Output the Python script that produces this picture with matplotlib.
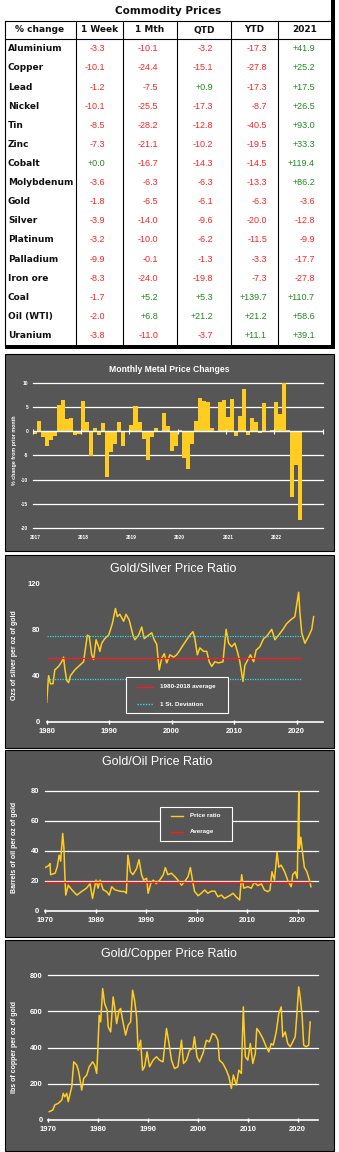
import numpy as np
import matplotlib
matplotlib.use("Agg")
import matplotlib.pyplot as plt
from matplotlib.patches import Rectangle
from matplotlib import font_manager

W, H = 339, 1152

# ---- table data ----
commodities = ["Aluminium", "Copper", "Lead", "Nickel", "Tin", "Zinc", "Cobalt",
               "Molybdenum", "Gold", "Silver", "Platinum", "Palladium", "Iron ore",
               "Coal", "Oil (WTI)", "Uranium"]
col_headers = ["% change", "1 Week", "1 Mth", "QTD", "YTD", "2021"]
chg_week = [-3.3, -10.1, -1.2, -10.1, -8.5, -7.3, 0.0, -3.6, -1.8, -3.9, -3.2, -9.9, -8.3, -1.7, -2.0, -3.8]
chg_month = [-10.1, -24.4, -7.5, -25.5, -28.2, -21.1, -16.7, -6.3, -6.5, -14.0, -10.0, -0.1, -24.0, 5.2, 6.8, -11.0]
chg_qtd = [-3.2, -15.1, 0.9, -17.3, -12.8, -10.2, -14.3, -6.3, -6.1, -9.6, -6.2, -1.3, -19.8, 5.3, 21.2, -3.7]
chg_ytd = [-17.3, -27.8, -17.3, -8.7, -40.5, -19.5, -14.5, -13.3, -6.3, -20.0, -11.5, -3.3, -7.3, 139.7, 21.2, 11.1]
chg_2021 = [41.9, 25.2, 17.5, 26.5, 93.0, 33.3, 119.4, 86.2, -3.6, -12.8, -9.9, -17.7, -27.8, 110.7, 58.6, 39.1]

# ---- monthly metal price changes, Jan 2017 .. Jul 2022 ----
bar_years = ["2017", "2018", "2019", "2020", "2021", "2022"]
monthly_chg = [-0.5, 2.2, -1.2, -3.0, -1.9, -1.0, 5.5, 6.4, 2.6, 2.7, -0.8, -0.5,
               6.2, 1.9, -5.1, 0.6, -0.7, 1.6, -9.5, -4.2, -2.6, 2.0, -3.1, 0.0,
               1.2, 5.1, 1.9, -1.7, -6.0, -1.2, 0.7, 0.0, 3.8, 1.0, -4.0, -3.1,
               0.3, -5.5, -7.8, -2.6, 2.1, 6.8, 6.2, 6.0, 0.7, 0.0, 6.0, 6.4,
               2.9, 6.7, -1.0, 3.1, 8.7, -0.8, 2.7, 1.9, -0.3, 5.8, -0.1, 0.3,
               6.1, 3.6, 10.3, 0.2, -13.6, -6.9, -18.3]

# ---- gold/silver ratio ----
gs_years = [1980.0, 1980.3, 1980.6, 1981.0, 1981.3, 1981.9, 1982.4, 1982.7, 1982.9, 1983.2,
            1983.5, 1983.8, 1984.5, 1985.3, 1985.9, 1986.5, 1986.8, 1987.2, 1987.5, 1987.9,
            1988.3, 1988.5, 1988.8, 1989.3, 1989.9, 1990.1, 1990.5, 1991.0, 1991.3, 1991.7,
            1992.3, 1992.7, 1993.2, 1993.8, 1994.1, 1994.7, 1995.2, 1995.6, 1996.3, 1996.8,
            1997.2, 1997.6, 1998.0, 1998.4, 1998.8, 1999.2, 1999.7, 2000.3, 2000.8, 2001.3,
            2001.9, 2002.4, 2002.9, 2003.4, 2003.7, 2004.1, 2004.5, 2005.1, 2005.6, 2006.0,
            2006.4, 2006.9, 2007.5, 2008.2, 2008.7, 2009.1, 2009.6, 2010.1, 2010.5, 2010.9,
            2011.4, 2011.7, 2012.3, 2012.6, 2013.1, 2013.5, 2014.1, 2014.7, 2015.2, 2016.0,
            2016.5, 2017.1, 2017.8, 2018.4, 2019.0, 2019.7, 2020.3, 2020.5, 2020.8, 2021.3,
            2021.9, 2022.4, 2022.7]
gs_ratio = [17, 40, 33, 33, 45, 48, 52, 56, 46, 36,
            34, 40, 45, 49, 52, 75, 74, 58, 54, 71,
            65, 61, 68, 72, 75, 78, 85, 98, 91, 93,
            87, 93, 88, 75, 71, 75, 82, 72, 75, 77,
            71, 67, 45, 55, 59, 51, 58, 56, 58, 62,
            67, 71, 75, 78, 72, 58, 64, 61, 61, 52,
            48, 52, 51, 52, 80, 68, 65, 68, 61, 52,
            35, 49, 55, 58, 52, 62, 65, 72, 74, 80,
            71, 75, 80, 85, 88, 91, 112, 95, 77, 68,
            74, 80, 91]
gs_avg = 55.5
gs_sd = 18.8
gs_band_end = 2020.9

# ---- gold/oil ratio ----
go_years = [1970.0, 1970.7, 1971.0, 1971.1, 1972.0, 1972.4, 1972.8, 1973.1, 1973.5, 1973.75,
            1973.9, 1974.1, 1974.6, 1975.3, 1976.3, 1977.2, 1978.2, 1978.9, 1979.4, 1980.1,
            1980.5, 1980.9, 1981.5, 1982.2, 1982.7, 1983.2, 1983.8, 1984.8, 1985.8, 1986.1,
            1986.4, 1986.9, 1987.4, 1988.1, 1988.6, 1989.1, 1989.5, 1990.1, 1990.4, 1990.9,
            1991.4, 1992.0, 1992.7, 1993.4, 1993.8, 1994.3, 1995.0, 1995.7, 1996.3, 1997.0,
            1997.6, 1998.3, 1998.75, 1999.3, 1999.6, 2000.3, 2000.9, 2001.6, 2002.2, 2002.9,
            2003.6, 2004.2, 2004.9, 2005.5, 2006.5, 2007.2, 2007.8, 2008.5, 2008.9, 2009.3,
            2010.1, 2010.8, 2011.4, 2012.1, 2012.8, 2013.4, 2014.1, 2014.5, 2014.9, 2015.4,
            2015.9, 2016.25, 2016.7, 2017.4, 2018.0, 2018.7, 2019.0, 2019.5, 2019.9, 2020.2,
            2020.3, 2020.6, 2021.0, 2021.3, 2021.8, 2022.3, 2022.6]
go_ratio = [28.7, 30, 31.5, 24, 25, 29, 37, 33, 51.5, 41.5,
            26, 10.4, 17, 14, 10.4, 12.7, 15, 18, 8.2, 20.4,
            15, 20.4, 14, 12.7, 10.4, 16, 14, 13, 12.7, 11.6,
            37, 26, 24, 28, 34, 24, 20.4, 21.6, 11.6, 18,
            20.4, 18, 20.4, 24, 28.7, 24, 25, 22.7, 20.4, 17,
            19.3, 22.7, 28.7, 18, 12.7, 10, 11.6, 13.8, 11.6, 13,
            13, 9.3, 10.4, 8.2, 10, 11.6, 9.3, 7.1, 24, 15,
            16, 15, 19, 16.7, 18, 13.8, 12.7, 13.8, 26, 20.4,
            39, 29, 30.4, 26, 20.4, 16, 24, 26, 21.6, 80,
            41.5, 49, 37, 29, 26, 20.4, 16]
go_avg = 19.3
go_avg_end = 2022.6

# ---- gold/copper ratio ----
gc_years = [1970.2, 1970.9, 1971.3, 1972.0, 1972.7, 1973.0, 1973.3, 1973.7, 1974.0, 1974.3,
            1974.7, 1975.1, 1975.7, 1976.1, 1976.7, 1977.1, 1977.7, 1978.2, 1978.9, 1979.3,
            1979.7, 1979.9, 1980.2, 1980.5, 1980.9, 1981.3, 1981.8, 1982.0, 1982.5, 1983.0,
            1983.3, 1983.7, 1984.2, 1984.5, 1984.9, 1985.5, 1986.0, 1986.5, 1986.9, 1987.3,
            1987.7, 1988.0, 1988.5, 1988.9, 1989.3, 1989.8, 1990.3, 1991.0, 1991.7, 1992.3,
            1993.0, 1993.7, 1994.2, 1994.7, 1995.3, 1996.0, 1996.7, 1997.1, 1997.7, 1998.3,
            1999.0, 1999.3, 1999.8, 2000.3, 2001.0, 2001.7, 2002.3, 2002.9, 2003.5, 2004.0,
            2004.3, 2005.0, 2005.7, 2006.2, 2006.7, 2007.1, 2007.7, 2008.2, 2008.7, 2009.1,
            2009.5, 2010.0, 2010.5, 2011.0, 2011.5, 2011.8, 2012.3, 2013.0, 2013.7, 2014.2,
            2014.7, 2015.1, 2015.7, 2016.2, 2016.7, 2017.0, 2017.5, 2018.0, 2018.5, 2019.0,
            2019.5, 2019.8, 2020.2, 2020.5, 2020.9, 2021.2, 2021.7, 2022.2, 2022.5]
gc_ratio = [46, 55, 83, 92, 110, 147, 128, 147, 101, 138,
            183, 321, 303, 266, 165, 229, 248, 294, 321, 303,
            257, 367, 578, 541, 725, 642, 606, 514, 486, 679,
            624, 532, 606, 615, 551, 468, 523, 541, 716, 661,
            569, 385, 440, 275, 294, 376, 294, 330, 349, 330,
            321, 505, 422, 330, 284, 294, 440, 312, 330, 385,
            395, 459, 349, 321, 367, 440, 431, 477, 468, 440,
            330, 312, 275, 239, 174, 248, 193, 275, 257, 624,
            349, 330, 422, 312, 367, 505, 486, 450, 404, 376,
            422, 413, 486, 587, 624, 459, 486, 422, 404, 431,
            459, 569, 734, 679, 569, 413, 404, 413, 541]

# ---- styling ----
PANEL = "#565656"
GOLD = "#ffcc22"
RED = "#ff1a1a"
CYAN = "#33dddd"
NUM_RED = "#ff2222"
NUM_GREEN = "#1e8c1e"
SANS = ["Liberation Sans", "DejaVu Sans"]

# narrow face for the bar chart title, if one is installed
installed = {f.name for f in font_manager.fontManager.ttflist}
narrow = [n for n in ["Liberation Sans Narrow", "DejaVu Sans Condensed"] if n in installed]
title1_family = narrow[:1] + SANS if narrow else SANS
title1_size = 7.5 if narrow else 6.2


def box(l, t, r, b):
    return [l / W, 1 - b / H, (r - l) / W, (b - t) / H]


fig = plt.figure(figsize=(W / 100, H / 100), dpi=100)
fig.patch.set_facecolor("white")

bg = fig.add_axes([0, 0, 1, 1], zorder=0)
bg.set_xlim(0, W)
bg.set_ylim(H, 0)
bg.axis("off")

over = fig.add_axes([0, 0, 1, 1], zorder=5)
over.set_xlim(0, W)
over.set_ylim(H, 0)
over.axis("off")
over.patch.set_alpha(0)

# ---------------- table ----------------
bg.text(168, 11, "Commodity Prices", ha="center", va="center", fontsize=7.5,
        fontweight="bold", family="DejaVu Sans", color="#111111")
tbl_top, hdr_bot, tbl_bot = 21, 39.3, 345
col_lines = [5, 76, 123, 177, 231, 278]
bg.plot([5, 331], [tbl_top, tbl_top], color="black", lw=0.8)
bg.plot([5, 331], [hdr_bot, hdr_bot], color="black", lw=0.8)
for x in col_lines:
    bg.plot([x, x], [tbl_top, tbl_bot], color="black", lw=0.8)
bg.add_patch(Rectangle((331, 0), 4, 349, facecolor="black", edgecolor="none"))
bg.add_patch(Rectangle((5, 345), 330, 4, facecolor="black", edgecolor="none"))

hdr_x = [40, 100, 150, 204, 254, 305]
for x, h in zip(hdr_x, col_headers):
    bg.text(x, 30, h, ha="center", va="center", fontsize=6.5, fontweight="bold",
            family="DejaVu Sans", color="#111111")

row_h = (tbl_bot - hdr_bot) / len(commodities)
num_right = [105, 158, 213, 267, 315]
columns = [chg_week, chg_month, chg_qtd, chg_ytd, chg_2021]
for i, name in enumerate(commodities):
    yc = hdr_bot + (i + 0.5) * row_h
    bg.text(8, yc, name, ha="left", va="center", fontsize=6.5, fontweight="bold",
            family="DejaVu Sans", color="#111111")
    for xr, col in zip(num_right, columns):
        v = col[i]
        bg.text(xr, yc, f"{v:+.1f}", ha="right", va="center", fontsize=6.5,
                family=SANS, color=NUM_GREEN if v >= 0 else NUM_RED)

# ---------------- panel backgrounds ----------------
panels = [(5, 354, 334, 551), (5, 555, 334, 748), (5, 750, 334, 937), (5, 940, 334, 1151)]
for l, t, r, b in panels:
    bg.add_patch(Rectangle((l, t), r - l, b - t, facecolor=PANEL, edgecolor="black", lw=0.8))


def style_axes(ax, xticks, xlabels, yticks, fs, xpad, ypad, bottom_spine=True):
    ax.patch.set_alpha(0)
    for s in ax.spines.values():
        s.set_visible(False)
    if bottom_spine:
        ax.spines["bottom"].set_visible(True)
        ax.spines["bottom"].set_color("white")
        ax.spines["bottom"].set_linewidth(1.2)
    ax.set_xticks(xticks)
    ax.set_xticklabels(xlabels, fontsize=fs, fontweight="bold", color="white", family=SANS)
    ax.set_yticks(yticks)
    ax.set_yticklabels([str(v) for v in yticks], fontsize=fs, fontweight="bold",
                       color="white", family=SANS)
    ax.tick_params(axis="y", length=0, pad=ypad)
    ax.tick_params(axis="x", length=3, width=1, color="white", direction="inout", pad=xpad)


# ---------------- monthly changes ----------------
ax1 = fig.add_axes(box(33, 382.7, 323, 528.3), zorder=1)
months = np.arange(len(monthly_chg))
ax1.set_xlim(-0.5, 71.64)
ax1.set_ylim(-20, 10)
for v in [-20, -15, -10, -5, 5, 10]:
    ax1.axhline(v, color="white", lw=0.9, zorder=0, clip_on=False)
ax1.bar(months, monthly_chg, width=1.0, color=GOLD, edgecolor="none", zorder=2)
ax1.axhline(0, color="white", lw=1.0, zorder=3)
ax1.vlines([-0.5, 11.5, 23.5, 35.5, 47.5, 59.5, 71.64], -0.5, 0.5, color="white",
           lw=0.8, zorder=3, clip_on=False)
style_axes(ax1, [0, 12, 24, 36, 48, 60], bar_years, [-20, -15, -10, -5, 0, 5, 10],
           3.5, 5, 3.5, bottom_spine=False)
ax1.tick_params(axis="x", length=0)
over.text(169, 370, "Monthly Metal Price Changes", ha="center", va="center",
          fontsize=title1_size, fontweight="bold", family=title1_family, color="white")
over.text(15, 450, "% change from prior month", ha="center", va="center", rotation=90,
          fontsize=3.8, fontweight="bold", family=SANS, color="white")

# ---------------- gold/silver ----------------
ax2 = fig.add_axes(box(46.7, 583, 323, 722), zorder=1)
ax2.set_xlim(1980, 2024.2)
ax2.set_ylim(0, 120)
ax2.plot(gs_years, gs_ratio, color=GOLD, lw=1.1, zorder=2)
ax2.hlines(gs_avg, 1980, gs_band_end, color=RED, lw=0.9, zorder=3)
ax2.hlines([gs_avg + gs_sd, gs_avg - gs_sd], 1980, gs_band_end, color=CYAN,
           lw=0.9, linestyles=(0, (1, 1)), zorder=3)
style_axes(ax2, [1980, 1990, 2000, 2010, 2020], ["1980", "1990", "2000", "2010", "2020"],
           [0, 40, 80, 120], 5.5, 3, 4.5)
over.text(173, 569, "Gold/Silver Price Ratio", ha="center", va="center", fontsize=9,
          family=SANS, color="white")
over.text(15, 655, "Ozs of silver per oz of gold", ha="center", va="center", rotation=90,
          fontsize=5, fontweight="bold", family=SANS, color="white")
over.add_patch(Rectangle((126, 677), 102, 36, facecolor=PANEL, edgecolor="white", lw=0.8))
over.plot([137, 153], [686.7, 686.7], color=RED, lw=1.0)
over.text(160, 686.7, "1980-2018 average", ha="left", va="center", fontsize=4.5,
          fontweight="bold", family=SANS, color="white")
over.plot([137, 153], [704.3, 704.3], color=CYAN, lw=1.0, ls=(0, (1, 1)))
over.text(160, 704.3, "1 St. Deviation", ha="left", va="center", fontsize=4.5,
          fontweight="bold", family=SANS, color="white")

# ---------------- gold/oil ----------------
ax3 = fig.add_axes(box(45, 790.7, 318, 910.7), zorder=1)
ax3.set_xlim(1970, 2024.0)
ax3.set_ylim(0, 80)
for v in [20, 40, 60, 80]:
    ax3.axhline(v, color="white", lw=0.9, zorder=0, clip_on=False)
ax3.plot(go_years, go_ratio, color=GOLD, lw=1.1, zorder=2)
ax3.hlines(go_avg, 1970, go_avg_end, color=RED, lw=1.0, zorder=3)
style_axes(ax3, [1970, 1980, 1990, 2000, 2010, 2020],
           ["1970", "1980", "1990", "2000", "2010", "2020"], [0, 20, 40, 60, 80], 5.5, 3, 4)
over.text(157, 762, "Gold/Oil Price Ratio", ha="center", va="center", fontsize=9,
          family=SANS, color="white")
over.text(15, 847, "Barrels of oil per oz of gold", ha="center", va="center", rotation=90,
          fontsize=5, fontweight="bold", family=SANS, color="white")
over.add_patch(Rectangle((160, 807), 72, 34, facecolor=PANEL, edgecolor="white", lw=0.8))
over.plot([171, 183], [815.7, 815.7], color=GOLD, lw=1.0)
over.text(190, 815.7, "Price ratio", ha="left", va="center", fontsize=4.5,
          fontweight="bold", family=SANS, color="white")
over.plot([171, 183], [831.7, 831.7], color=RED, lw=1.0)
over.text(190, 831.7, "Average", ha="left", va="center", fontsize=4.5,
          fontweight="bold", family=SANS, color="white")

# ---------------- gold/copper ----------------
ax4 = fig.add_axes(box(48.3, 975, 318, 1120), zorder=1)
ax4.set_xlim(1970, 2024.07)
ax4.set_ylim(0, 800)
for v in [200, 400, 600, 800]:
    ax4.axhline(v, color="white", lw=0.9, zorder=0, clip_on=False)
ax4.plot(gc_years, gc_ratio, color=GOLD, lw=1.1, zorder=2)
style_axes(ax4, [1970, 1980, 1990, 2000, 2010, 2020],
           ["1970", "1980", "1990", "2000", "2010", "2020"], [0, 200, 400, 600, 800], 5.5, 3, 4)
over.text(169, 954, "Gold/Copper Price Ratio", ha="center", va="center", fontsize=9,
          family=SANS, color="white")
over.text(15, 1047, "lbs of copper per oz of gold", ha="center", va="center", rotation=90,
          fontsize=5, fontweight="bold", family=SANS, color="white")

fig.savefig("out.png", dpi=100, facecolor="white")
